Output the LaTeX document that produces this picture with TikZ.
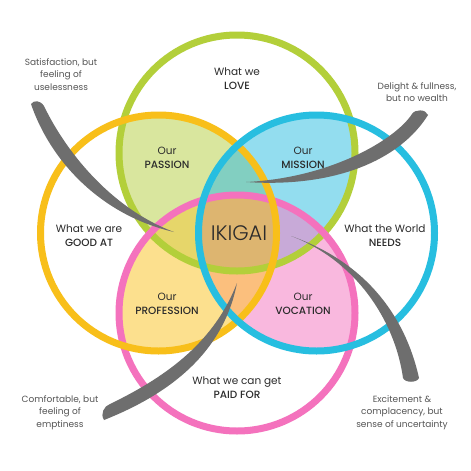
\documentclass[tikz,border=0pt]{standalone}
\usepackage{fontspec}
\IfFontExistsTF{Poppins Medium}
  {\setmainfont{Poppins}[BoldFont={Poppins Medium}]}
  {\setmainfont{Poppins}}
\IfFontExistsTF{Poppins Light}
  {\newfontfamily\iklight{Poppins Light}}
  {\newfontfamily\iklight{Poppins}}
\usetikzlibrary{positioning}
\definecolor{ikGreen}{HTML}{B3CF3A}
\definecolor{ikYellow}{HTML}{F8BF1A}
\definecolor{ikBlue}{HTML}{27BEE0}
\definecolor{ikPink}{HTML}{F472BD}
\definecolor{ikPassion}{HTML}{D9E69E}
\definecolor{ikMission}{HTML}{93DDEF}
\definecolor{ikProfession}{HTML}{FCE08E}
\definecolor{ikVocation}{HTML}{F9B8DE}
\definecolor{ikTeal}{HTML}{82CFC1}
\definecolor{ikOlive}{HTML}{E6D66A}
\definecolor{ikLilac}{HTML}{C8AAD8}
\definecolor{ikOrange}{HTML}{FBBF7D}
\definecolor{ikTan}{HTML}{DDB570}
\definecolor{ikInk}{HTML}{2B2B2B}
\definecolor{ikMuted}{HTML}{555555}
\definecolor{ikSwoosh}{HTML}{6E6E6E}
\newcommand{\ikLove}{(237,153) circle[radius=118]}
\newcommand{\ikGood}{(158.5,233) circle[radius=118]}
\newcommand{\ikWorld}{(316.5,233) circle[radius=118]}
\newcommand{\ikPaid}{(237,313) circle[radius=118]}
\tikzset{
  ikring/.style={line width=7pt},
  iktitle/.style={
    font=\fontsize{10.5}{14}\selectfont,
    text=ikInk,
    align=center,
    inner sep=0pt
  },
  iknote/.style={
    font=\fontsize{9}{12.5}\selectfont,
    text=ikMuted,
    align=center,
    inner sep=0pt
  },
  ikswoosh/.style={fill=ikSwoosh}
}

\begin{document}
\begin{tikzpicture}[x=1pt,y=-1pt]
  \fill[white] (0,0) rectangle (471,471);
  \useasboundingbox (0,0) rectangle (471,471);

  % pair overlaps
  \begin{scope}\clip \ikLove; \fill[ikPassion] \ikGood; \end{scope}
  \begin{scope}\clip \ikLove; \fill[ikMission] \ikWorld; \end{scope}
  \begin{scope}\clip \ikGood; \fill[ikProfession] \ikPaid; \end{scope}
  \begin{scope}\clip \ikWorld; \fill[ikVocation] \ikPaid; \end{scope}
  % triple overlaps
  \begin{scope}\clip \ikLove; \clip \ikGood; \fill[ikTeal] \ikWorld; \end{scope}
  \begin{scope}\clip \ikLove; \clip \ikGood; \fill[ikOlive] \ikPaid; \end{scope}
  \begin{scope}\clip \ikLove; \clip \ikWorld; \fill[ikLilac] \ikPaid; \end{scope}
  \begin{scope}\clip \ikGood; \clip \ikWorld; \fill[ikOrange] \ikPaid; \end{scope}
  % centre
  \begin{scope}\clip \ikLove; \clip \ikGood; \clip \ikWorld; \fill[ikTan] \ikPaid; \end{scope}

  % rings
  \draw[ikring,ikGreen] \ikLove;
  \draw[ikring,ikPink] \ikPaid;
  \draw[ikring,ikYellow] \ikGood;
  \draw[ikring,ikBlue] \ikWorld;

  % labels
  \node[iktitle] (love) at (237,79) {What we\\\textbf{LOVE}};
  \node[iktitle] (passion) at (167,158) {Our\\\textbf{PASSION}};
  \node[iktitle] (mission) at (303,158) {Our\\\textbf{MISSION}};
  \node[iktitle] (good) at (89,235.5) {What we are\\\textbf{GOOD AT}};
  \node[iktitle] (world) at (385,236) {What the World\\\textbf{NEEDS}};
  \node[iktitle,font=\iklight\fontsize{21}{24}\selectfont] (ikigai) at (239,233) {IKIGAI};
  \node[iktitle] (profession) at (167,304) {Our\\\textbf{PROFESSION}};
  \node[iktitle] (vocation) at (303,304) {Our\\\textbf{VOCATION}};
  \node[iktitle] (paid) at (237,387.5) {What we can get\\\textbf{PAID FOR}};

  \node[iknote] (useless) at (61,74.5) {Satisfaction, but\\feeling of\\uselessness};
  \node[iknote] (delight) at (417,92) {Delight \& fullness,\\but no wealth};
  \node[iknote] (empty) at (60,412.5) {Comfortable, but\\feeling of\\emptiness};
  \node[iknote] (unsure) at (402,412.5) {Excitement \&\\complacency, but\\sense of uncertainty};

  % swooshes
  \fill[ikswoosh] (31,104) .. controls (50,160) and (100,215) .. (174,232)
    .. controls (110,208) and (65,150) .. (44,106)
    .. controls (40,100) and (34,100) .. cycle;
  \fill[ikswoosh] (412,114) .. controls (395,140) and (330,178) .. (246,182)
    .. controls (335,188) and (400,160) .. (428,115)
    .. controls (426,109) and (415,109) .. cycle;
  \fill[ikswoosh] (110,404) .. controls (170,375) and (215,340) .. (237,283)
    .. controls (225,345) and (180,390) .. (104,420)
    .. controls (100,414) and (104,406) .. cycle;
  \fill[ikswoosh] (403,378) .. controls (395,320) and (355,260) .. (291,236)
    .. controls (365,262) and (405,315) .. (419,378)
    .. controls (417,383) and (405,383) .. cycle;
\end{tikzpicture}
\end{document}
